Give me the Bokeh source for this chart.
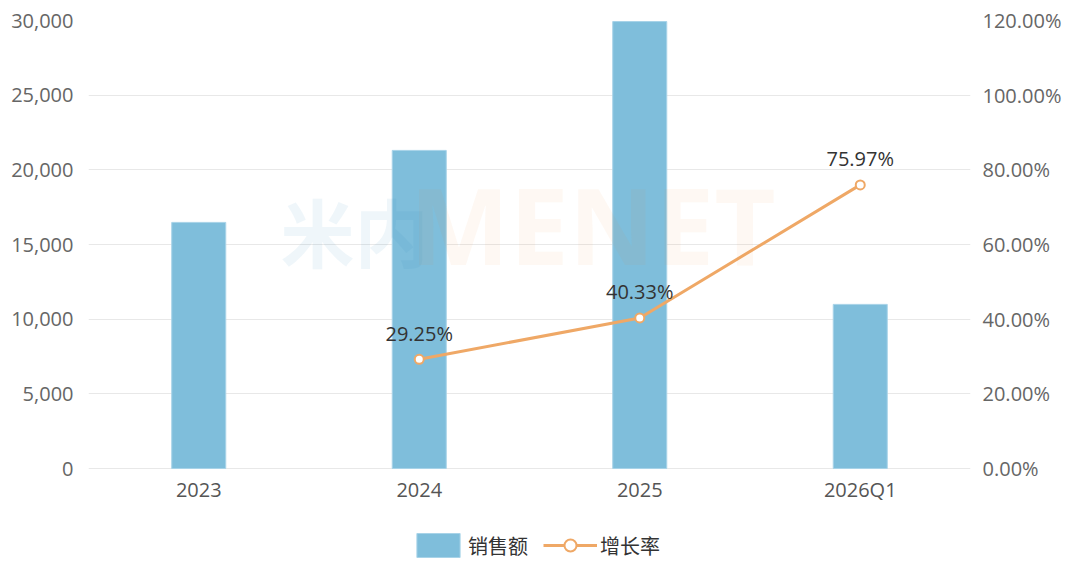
from bokeh.plotting import figure
from bokeh.models import (FactorRange, Range1d, LinearAxis, NumeralTickFormatter,
                          FixedTicker, ColumnDataSource, Legend, LegendItem, Label)
from bokeh.core.properties import value
from bokeh.embed import file_html
from bokeh.resources import INLINE

# ---- data ----
categories = ["2023", "2024", "2025", "2026Q1"]
sales = [16480, 21300, 29930, 10990]
growth_cats = ["2024", "2025", "2026Q1"]
growth = [0.2925, 0.4033, 0.7597]
growth_labels = ["29.25%", "40.33%", "75.97%"]
left_ticks = [0, 5000, 10000, 15000, 20000, 25000, 30000]
right_ticks = [0.0, 0.2, 0.4, 0.6, 0.8, 1.0, 1.2]
series_names = ["销售额", "增长率"]

FONT = "Open Sans"
CJK = "Noto Sans CJK SC"
BAR = "#7fbedb"
ORANGE = "#efa866"
GRID = "#e8e8e8"
TICK = "#666666"

# layout (pixels): plotting area top 20, zero line 468, figure bottom 559
W, H = 1064, 559
TOP, ZERO = 20, 468
extra = (H - ZERO) / (ZERO - TOP)   # fraction of the value span below zero (legend room)

LMAX, RMAX = left_ticks[-1], right_ticks[-1]
p = figure(width=W, height=H,
           x_range=FactorRange(*categories, range_padding=0),
           y_range=Range1d(-LMAX * extra, LMAX),
           output_backend="svg", toolbar_location=None,
           min_border_left=88, min_border_right=92,
           min_border_top=TOP, min_border_bottom=0)
p.outline_line_color = None
p.background_fill_color = "white"
p.border_fill_color = "white"

p.extra_y_ranges = {"pct": Range1d(-RMAX * extra, RMAX)}

# axes
p.yaxis.ticker = FixedTicker(ticks=left_ticks)
p.yaxis.formatter = NumeralTickFormatter(format="0,0")
p.ygrid.ticker = FixedTicker(ticks=left_ticks)
p.ygrid.grid_line_color = GRID
p.ygrid.grid_line_width = 1
p.xgrid.grid_line_color = None

rax = LinearAxis(y_range_name="pct", ticker=FixedTicker(ticks=right_ticks),
                 formatter=NumeralTickFormatter(format="0.00%"))
p.add_layout(rax, "right")

for ax in p.yaxis + [rax]:
    ax.axis_line_color = None
    ax.major_tick_line_color = None
    ax.minor_tick_line_color = None
    ax.major_label_text_font = FONT
    ax.major_label_text_font_size = "20px"
    ax.major_label_text_color = TICK
p.yaxis[0].major_label_standoff = 9
rax.major_label_standoff = 6

xax = p.xaxis[0]
xax.fixed_location = 0
xax.axis_line_color = None
xax.major_tick_line_color = None
xax.minor_tick_line_color = None
xax.major_label_text_font = FONT
xax.major_label_text_font_size = "20px"
xax.major_label_text_color = "#555555"
xax.major_label_standoff = 1

# watermark
p.add_layout(Label(x=192, y=277, x_units="screen", y_units="screen", text="米内",
                   text_font=CJK, text_font_style="bold", text_font_size="74px",
                   text_color="#2a8bbf", text_alpha=0.075))
p.add_layout(Label(x=321, y=264, x_units="screen", y_units="screen", text="MENET",
                   text_font=FONT, text_font_style="bold", text_font_size="106px",
                   text_color="#f08030", text_alpha=0.06))

# bars
src = ColumnDataSource(dict(cat=categories, sales=sales))
bars = p.vbar(x="cat", top="sales", width=0.245, source=src,
              fill_color=BAR, line_color="#a8d3e8", line_width=1)

# growth line
gsrc = ColumnDataSource(dict(cat=growth_cats, g=growth, lab=growth_labels))
line_r = p.line(x="cat", y="g", source=gsrc, y_range_name="pct",
                line_color=ORANGE, line_width=3)
pts_r = p.scatter(x="cat", y="g", source=gsrc, y_range_name="pct", size=9,
                  fill_color="white", line_color=ORANGE, line_width=2)
p.text(x="cat", y="g", text="lab", source=gsrc, y_range_name="pct",
       text_align="center", text_baseline="middle", y_offset=-26,
       text_font=value(FONT), text_font_size="20px", text_color="#333333")

# legend at the bottom
leg = Legend(items=[LegendItem(label=series_names[0], renderers=[bars]),
                    LegendItem(label=series_names[1], renderers=[line_r, pts_r])],
             location=(323, -1), orientation="horizontal",
             glyph_width=54, glyph_height=30, label_standoff=3, spacing=15,
             padding=0, margin=0,
             border_line_color=None, background_fill_alpha=0,
             label_text_font=CJK, label_text_font_size="20px",
             label_text_color="#333333")
p.add_layout(leg)

open("out.html", "w").write(file_html(p, INLINE))
